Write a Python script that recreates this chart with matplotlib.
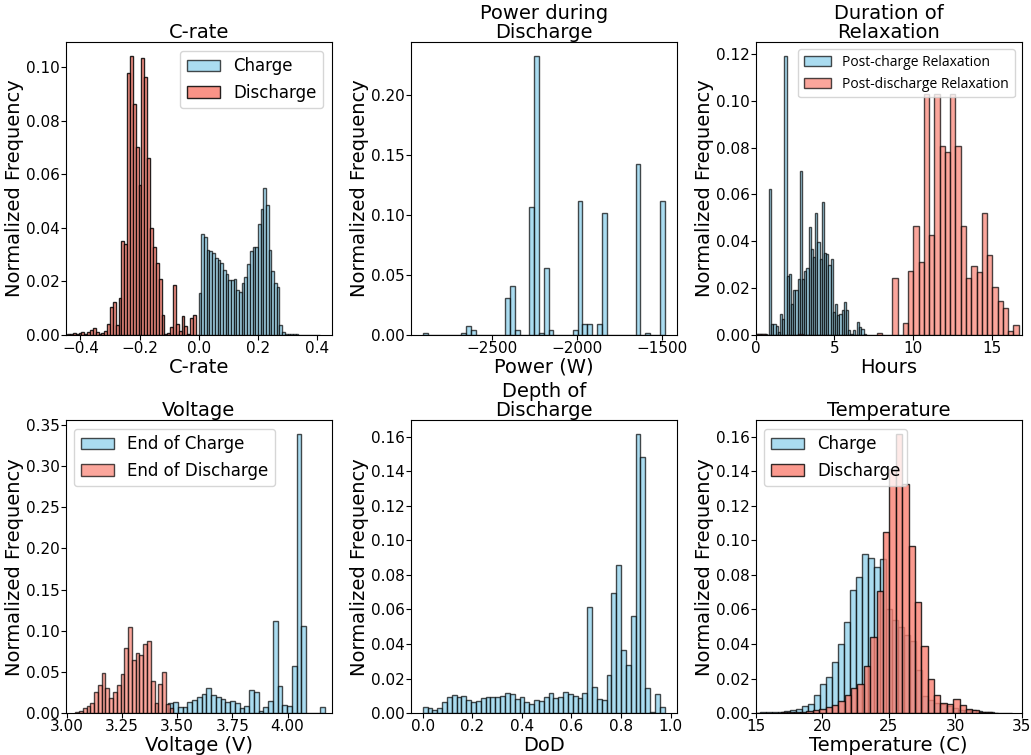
import numpy as np
import matplotlib
matplotlib.use("Agg")
import matplotlib.pyplot as plt
from matplotlib.ticker import MultipleLocator

# ---- C-rate ----
crate_dis_edges = np.linspace(-0.445, 0.0, 47)
crate_dis = [0.0003, 0.0004, 0.0006, 0.0005, 0.0008, 0.0010, 0.0005, 0.0011, 0.0017, 0.0027,
             0.0011, 0.0005, 0.0008, 0.0014, 0.0042, 0.0105, 0.0124, 0.0036, 0.0138, 0.0350,
             0.0340, 0.0978, 0.1040, 0.0860, 0.0700, 0.0560, 0.1034, 0.0962, 0.0660, 0.0400,
             0.0327, 0.0270, 0.0207, 0.0074, 0.0005, 0.0008, 0.0030, 0.0188, 0.0042, 0.0015,
             0.0070, 0.0032, 0.0005, 0.0064, 0.0075, 0.0000]
crate_chg_edges = np.linspace(0.0, 0.41, 46)
crate_chg = [0.0158, 0.0376, 0.0367, 0.0317, 0.0315, 0.0304, 0.0286, 0.0280, 0.0267, 0.0242,
             0.0226, 0.0205, 0.0205, 0.0210, 0.0167, 0.0160, 0.0192, 0.0215, 0.0263, 0.0314,
             0.0327, 0.0327, 0.0413, 0.0470, 0.0548, 0.0483, 0.0317, 0.0240, 0.0192, 0.0180,
             0.0036, 0.0011, 0.0005, 0.0003, 0.0002, 0.0002, 0.0002, 0.0001, 0.0001, 0.0001,
             0.0001, 0.0001, 0.0001, 0.0001, 0.0001]

# ---- Power during discharge ----
power_edges = np.linspace(-2905, -1484, 51)
power = [0.002, 0, 0, 0, 0, 0, 0, 0, 0.002, 0.0073,
         0.0045, 0, 0, 0, 0, 0, 0, 0.0312, 0.041, 0.0045,
         0, 0, 0.1065, 0.2328, 0.002, 0.0555, 0.0045, 0, 0, 0,
         0, 0.0045, 0.1115, 0.0095, 0.0095, 0, 0.0095, 0.1018, 0, 0,
         0, 0, 0, 0, 0.143, 0, 0.002, 0, 0, 0.1115]

# ---- Duration of relaxation ----
relax_chg_edges = np.linspace(0, 7.0, 51)
relax_chg = [0.0006, 0.0006, 0.0006, 0.0006, 0.0006, 0.0, 0.0625, 0.0046, 0.0046, 0.0040,
             0.0013, 0.0088, 0.0066, 0.1190, 0.0252, 0.0262, 0.0134, 0.0190, 0.0190, 0.0238,
             0.0700, 0.0237, 0.0272, 0.0287, 0.0460, 0.0368, 0.0332, 0.0522, 0.0395, 0.0326,
             0.0569, 0.0350, 0.0344, 0.0298, 0.0326, 0.0098, 0.0134, 0.0084, 0.0091, 0.0105,
             0.0141, 0.0108, 0.0023, 0.0006, 0.0023, 0.0000, 0.0056, 0.0034, 0.0026, 0.0005]
relax_dis_edges = np.linspace(0, 16.7, 51)
relax_dis = [0.0006, 0.0006, 0, 0, 0, 0, 0, 0, 0.0005, 0,
             0, 0, 0, 0, 0, 0, 0, 0, 0, 0,
             0, 0, 0, 0.0010, 0, 0, 0.0245, 0, 0.0050, 0.0275,
             0.0463, 0.0310, 0.1030, 0.0425, 0.1030, 0.0805, 0.0780, 0.1030, 0.0805, 0.0465,
             0.0245, 0.0293, 0.0268, 0.0522, 0.0343, 0.0203, 0.0143, 0.0117, 0.0017, 0.0043]

# ---- Voltage ----
volt_chg_edges = np.linspace(3.46, 4.17, 34)
volt_chg = [0.0120, 0.0130, 0.0073, 0.0073, 0.0133, 0.0160, 0.0194, 0.0234, 0.0303, 0.0214,
            0.0194, 0.0170, 0.0137, 0.0141, 0.0121, 0.0061, 0.0081, 0.0283, 0.0255, 0.0028,
            0.0073, 0.0141, 0.1124, 0.0323, 0.0101, 0.0081, 0.0574, 0.3387, 0.1059, 0.0,
            0.0, 0.0, 0.0073]
volt_dis_edges = np.linspace(3.038, 3.483, 27)
volt_dis = [0.0008, 0.0030, 0.0060, 0.0080, 0.0120, 0.0260, 0.0340, 0.0485, 0.0300, 0.0180,
            0.0250, 0.0335, 0.0470, 0.0796, 0.1050, 0.0650, 0.0728, 0.0703, 0.0840, 0.0877,
            0.0384, 0.0120, 0.0352, 0.0497, 0.0110, 0.0060]

# ---- Depth of discharge ----
dod_edges = np.linspace(0.0, 0.976, 51)
dod = [0.0035, 0.0029, 0.0015, 0.0029, 0.0062, 0.0093, 0.0106, 0.0093, 0.0097, 0.0073,
       0.0064, 0.0071, 0.0087, 0.0095, 0.0091, 0.0093, 0.0099, 0.0114, 0.0108, 0.0081,
       0.0093, 0.0062, 0.0054, 0.0077, 0.0068, 0.0093, 0.0114, 0.0087, 0.0093, 0.0122,
       0.0112, 0.0100, 0.0087, 0.0114, 0.0613, 0.0151, 0.0081, 0.0073, 0.0222, 0.0696,
       0.0856, 0.0365, 0.0280, 0.0564, 0.1615, 0.1482, 0.0145, 0.0006, 0.0110, 0.0033]

# ---- Temperature ----
temp_chg_edges = 14.9 + 0.45 * np.arange(44)
temp_chg = [0.0003, 0.0004, 0.0004, 0.0005, 0.0006, 0.0010, 0.0015, 0.0023, 0.0043, 0.0054,
            0.0106, 0.0168, 0.0210, 0.0296, 0.0400, 0.0530, 0.0710, 0.0790, 0.0920, 0.0900,
            0.0846, 0.0890, 0.0600, 0.0540, 0.0500, 0.0450, 0.0420, 0.0250, 0.0100, 0.0077,
            0.0060, 0.0050, 0.0040, 0.0030, 0.0020, 0.0018, 0.0015, 0.0012, 0.0008, 0.0005,
            0.0003, 0.0002, 0.0001]
temp_dis_edges = 14.97 + 0.48 * np.arange(39)
temp_dis = [0.0002, 0.0002, 0.0003, 0.0003, 0.0004, 0.0005, 0.0006, 0.0008, 0.0010, 0.0015,
            0.0023, 0.0035, 0.0048, 0.0071, 0.0104, 0.0145, 0.0168, 0.0270, 0.0440, 0.0705,
            0.1050, 0.1415, 0.1615, 0.1328, 0.0970, 0.0643, 0.0386, 0.0197, 0.0106, 0.0058,
            0.0054, 0.0081, 0.0048, 0.0023, 0.0015, 0.0008, 0.0004, 0.0002]

BLUE = "skyblue"
RED = "salmon"


def hist(ax, edges, heights, color, alpha, label=None):
    edges = np.asarray(edges)
    ax.hist(edges[:-1], bins=edges, weights=heights, color=color, alpha=alpha,
            edgecolor="black", linewidth=1, label=label)


fig, axes = plt.subplots(2, 3, figsize=(10.31, 7.55), dpi=100)
fig.subplots_adjust(left=0.0637, right=0.991, bottom=0.0556, top=0.944,
                    wspace=0.297, hspace=0.292)

ax = axes[0, 0]
hist(ax, crate_chg_edges, crate_chg, BLUE, 0.7, "Charge")
hist(ax, crate_dis_edges, crate_dis, RED, 0.85, "Discharge")
ax.set_xlim(-0.45, 0.45)
ax.set_title("C-rate", fontsize=14, pad=2)
ax.set_xlabel("C-rate", fontsize=14, labelpad=1)
ax.legend(loc="upper right", fontsize=12)

ax = axes[0, 1]
hist(ax, power_edges, power, BLUE, 0.7)
ax.set_title("Power during\nDischarge", fontsize=14, pad=2, linespacing=1.0)
ax.set_xlabel("Power (W)", fontsize=14, labelpad=1)

ax = axes[0, 2]
hist(ax, relax_chg_edges, relax_chg, BLUE, 0.7, "Post-charge Relaxation")
hist(ax, relax_dis_edges, relax_dis, RED, 0.7, "Post-discharge Relaxation")
ax.set_xlim(0, 16.9)
ax.set_title("Duration of\nRelaxation", fontsize=14, pad=2, linespacing=1.0)
ax.set_xlabel("Hours", fontsize=14, labelpad=1)
ax.legend(loc="upper right", prop={"family": "Open Sans", "size": 10})

ax = axes[1, 0]
hist(ax, volt_chg_edges, volt_chg, BLUE, 0.7, "End of Charge")
hist(ax, volt_dis_edges, volt_dis, RED, 0.7, "End of Discharge")
ax.set_xlim(2.995, 4.2)
ax.set_title("Voltage", fontsize=14, pad=2)
ax.set_xlabel("Voltage (V)", fontsize=14, labelpad=1)
ax.legend(loc="upper left", fontsize=12)

ax = axes[1, 1]
hist(ax, dod_edges, dod, BLUE, 0.7)
ax.xaxis.set_major_locator(MultipleLocator(0.2))
ax.set_title("Depth of\nDischarge", fontsize=14, pad=2, linespacing=1.0)
ax.set_xlabel("DoD", fontsize=14, labelpad=1)

ax = axes[1, 2]
hist(ax, temp_chg_edges, temp_chg, BLUE, 0.7, "Charge")
hist(ax, temp_dis_edges, temp_dis, RED, 0.8, "Discharge")
ax.set_xlim(15, 35)
ax.set_title("Temperature", fontsize=14, pad=2)
ax.set_xlabel("Temperature (C)", fontsize=14, labelpad=1)
ax.legend(loc="upper left", fontsize=12)

for a in axes.flat:
    a.set_ylabel("Normalized Frequency", fontsize=14, labelpad=1)
    a.tick_params(labelsize=11, pad=1)

fig.savefig("out.png", dpi=100)
